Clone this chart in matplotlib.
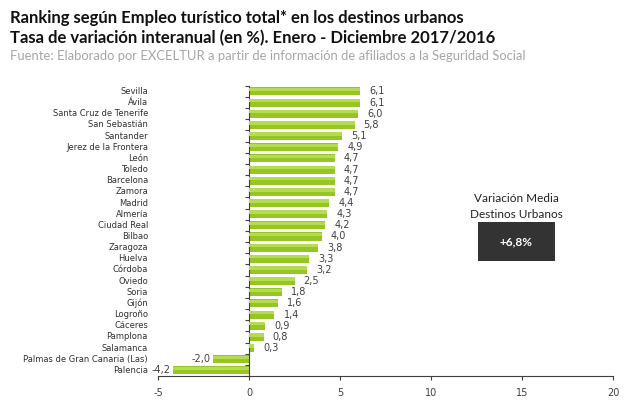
import matplotlib
matplotlib.use("Agg")
import matplotlib.pyplot as plt
from matplotlib.patches import Rectangle
import matplotlib.transforms as mtransforms

cities = ["Sevilla", "Ávila", "Santa Cruz de Tenerife", "San Sebastián", "Santander",
          "Jerez de la Frontera", "León", "Toledo", "Barcelona", "Zamora", "Madrid",
          "Almería", "Ciudad Real", "Bilbao", "Zaragoza", "Huelva", "Córdoba", "Oviedo",
          "Soria", "Gijón", "Logroño", "Cáceres", "Pamplona", "Salamanca",
          "Palmas de Gran Canaria (Las)", "Palencia"]
values = [6.1, 6.1, 6.0, 5.8, 5.1, 4.9, 4.7, 4.7, 4.7, 4.7, 4.4, 4.3, 4.2, 4.0,
          3.8, 3.3, 3.2, 2.5, 1.8, 1.6, 1.4, 0.9, 0.8, 0.3, -2.0, -4.2]
xticks = [-5, 0, 5, 10, 15, 20]
media = "+6,8%"

fig = plt.figure(figsize=(6.32, 4.03), dpi=100)
ax = fig.add_axes([0.25, 0.067, 0.72, 0.72])

y = list(range(len(cities)))
ax.barh(y, values, height=0.72, color="#95c622", edgecolor="none", zorder=2)
# lighter top half for a gradient-ish look
ax.barh([i - 0.18 for i in y], values, height=0.3, color="#b5dc50", edgecolor="none", zorder=3)

ax.set_xlim(-5, 20)
ax.set_ylim(len(cities) - 0.5, -0.5)
ax.set_xticks(xticks)
ax.set_xticklabels([str(t) for t in xticks], fontsize=7, color="#404040")
ax.tick_params(axis="x", length=3, width=0.8, color="#404040", pad=6)

for s in ["top", "right"]:
    ax.spines[s].set_visible(False)
ax.spines["left"].set_position(("data", 0))
ax.spines["left"].set_color("#404040")
ax.spines["bottom"].set_color("#404040")
ax.set_yticks([i + 0.5 for i in range(-1, len(cities))])
ax.set_yticklabels([])
ax.tick_params(axis="y", length=3, width=0.8, color="#404040")

trans = mtransforms.blended_transform_factory(ax.transAxes, ax.transData)
for i, (c, v) in enumerate(zip(cities, values)):
    ax.text(-0.022, i, c, transform=trans, ha="right", va="center",
            fontsize=6, color="#303030")
    lbl = f"{v:.1f}".replace(".", ",")
    if v >= 0:
        ax.text(v + 0.5, i, lbl, ha="left", va="center", fontsize=7, color="#404040")
    else:
        ax.text(v - 0.1, i, lbl, ha="right", va="center", fontsize=7, color="#404040")

fig.text(0.016, 0.955, "Ranking según Empleo turístico total* en los destinos urbanos",
         fontsize=12, fontweight="bold", family="Lato", va="center", color="#111111")
fig.text(0.016, 0.905, "Tasa de variación interanual (en %). Enero - Diciembre 2017/2016",
         fontsize=12, fontweight="bold", family="Lato", va="center", color="#111111")
fig.text(0.016, 0.862, "Fuente: Elaborado por EXCELTUR a partir de información de afiliados a la Seguridad Social",
         fontsize=9.4, family="Lato", va="center", color="#a6a6a6")

fig.text(516 / 632, 1 - 198 / 403, "Variación Media", fontsize=8.5, family="Lato",
         ha="center", va="center", color="#222222")
fig.text(516 / 632, 1 - 214 / 403, "Destinos Urbanos", fontsize=8.5, family="Lato",
         ha="center", va="center", color="#222222")
fig.patches.append(Rectangle((478 / 632, 1 - 261 / 403), 77 / 632, 39 / 403,
                             transform=fig.transFigure, facecolor="#333333",
                             edgecolor="none"))
fig.text(516 / 632, 1 - 242 / 403, media, fontsize=8.5, fontweight="bold", family="Lato",
         ha="center", va="center", color="white")

fig.savefig("out.png", dpi=100)
